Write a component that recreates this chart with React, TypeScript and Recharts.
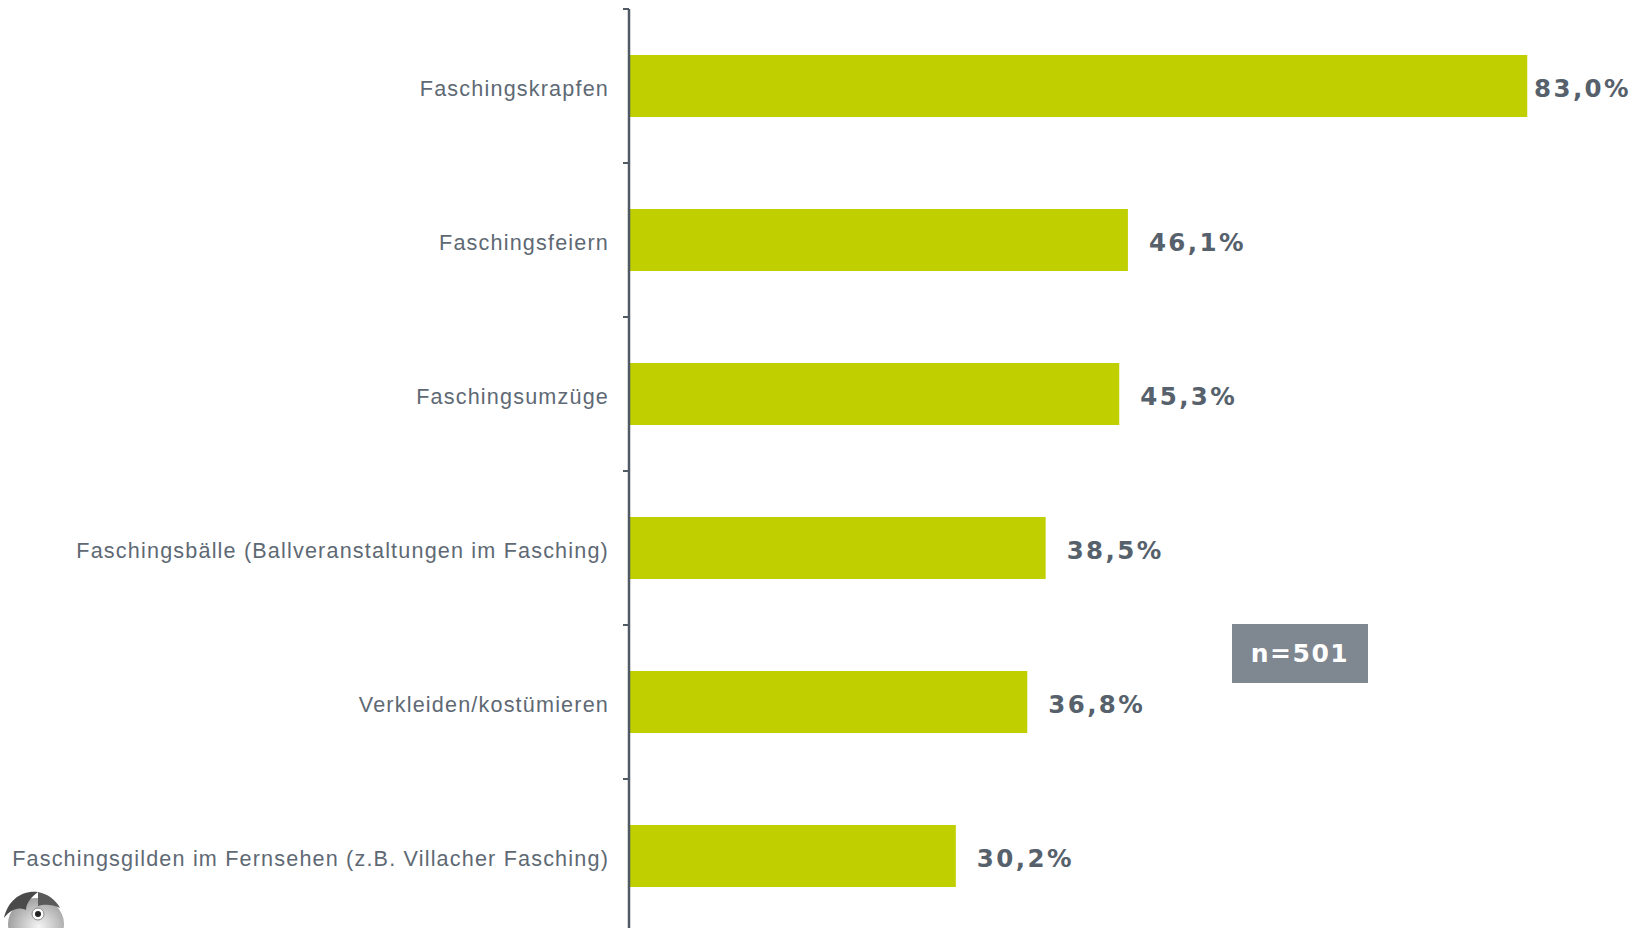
import { Bar, BarChart, LabelList, XAxis, YAxis } from 'recharts';

// Beliebteste Faschingsbräuche, Anteil in %
const categories = [
  'Faschingskrapfen',
  'Faschingsfeiern',
  'Faschingsumzüge',
  'Faschingsbälle (Ballveranstaltungen im Fasching)',
  'Verkleiden/kostümieren',
  'Faschingsgilden im Fernsehen (z.B. Villacher Fasching)',
];
const values = [83.0, 46.1, 45.3, 38.5, 36.8, 30.2];
const sampleSize = 'n=501';

const data = categories.map((name, i) => ({ name, value: values[i] }));

const WIDTH = 1641;
const HEIGHT = 936; // plot runs a bit past the bottom edge, clipped by the wrapper
const MARGIN = { top: 9, right: 38, bottom: 3, left: 0 };
const AXIS_X = 629;
const BAND = (HEIGHT - MARGIN.top - MARGIN.bottom) / categories.length;
const LABEL_MAX_X = 1534; // longest label gets pushed left so it stays on the page

const AXIS_COLOR = '#4f5a65';
const BAR_COLOR = '#bfcf00';

function CategoryTick(props: any) {
  const { y, payload, index } = props;
  const half = BAND / 2;
  return (
    <g>
      <line x1={AXIS_X - 6} x2={AXIS_X} y1={y - half} y2={y - half} stroke={AXIS_COLOR} strokeWidth={2} />
      {index === categories.length - 1 ? (
        <line x1={AXIS_X - 6} x2={AXIS_X} y1={y + half} y2={y + half} stroke={AXIS_COLOR} strokeWidth={2} />
      ) : null}
      <text
        x={AXIS_X - 20}
        y={y + 2}
        textAnchor="end"
        dominantBaseline="central"
        fill="#5e6974"
        fontFamily="'Liberation Sans', Arial, sans-serif"
        fontSize={21.6}
        letterSpacing={1.17}
      >
        {payload.value}
      </text>
    </g>
  );
}

function ValueLabel(props: any) {
  const { x, y, width, height, value } = props;
  const lx = Math.min(Number(x) + Number(width) + 21, LABEL_MAX_X);
  return (
    <text
      x={lx}
      y={Number(y) + Number(height) / 2 + 2}
      dominantBaseline="central"
      fill="#56616c"
      fontFamily="'DejaVu Sans', Verdana, sans-serif"
      fontWeight="bold"
      fontSize={24.5}
      letterSpacing={2.4}
    >
      {Number(value).toFixed(1).replace('.', ',')}%
    </text>
  );
}

function Mascot() {
  return (
    <svg width={70} height={40} style={{ position: 'absolute', left: 0, top: 888 }}>
      <defs>
        <radialGradient id="head" cx="0.55" cy="0.55" r="0.6">
          <stop offset="0%" stopColor="#f4f4f4" />
          <stop offset="100%" stopColor="#9a9a9a" />
        </radialGradient>
      </defs>
      <ellipse cx={36} cy={36} rx={28} ry={26} fill="url(#head)" />
      <path d="M4 30 C8 12, 22 2, 38 4 C30 10, 26 16, 26 22 C18 18, 10 22, 4 30 Z" fill="#4a4a4a" />
      <path d="M38 4 C48 6, 56 12, 60 20 C52 16, 44 16, 38 18 Z" fill="#5a5a5a" />
      <circle cx={38} cy={26} r={6} fill="#ffffff" stroke="#888" strokeWidth={1} />
      <circle cx={38} cy={26} r={3} fill="#222" />
    </svg>
  );
}

export default function App() {
  return (
    <div style={{ position: 'fixed', left: 0, top: 0, width: WIDTH, height: 928, overflow: 'hidden', background: '#fff' }}>
      <BarChart width={WIDTH} height={HEIGHT} data={data} layout="vertical" margin={MARGIN}>
        <XAxis type="number" domain={[0, 90]} hide />
        <YAxis
          type="category"
          dataKey="name"
          width={AXIS_X}
          axisLine={{ stroke: AXIS_COLOR, strokeWidth: 2.5 }}
          tickLine={false}
          tick={<CategoryTick />}
          interval={0}
        />
        <Bar dataKey="value" fill={BAR_COLOR} barSize={62} isAnimationActive={false}>
          <LabelList dataKey="value" content={<ValueLabel />} />
        </Bar>
      </BarChart>
      <div
        style={{
          position: 'absolute',
          left: 1232,
          top: 624,
          width: 136,
          height: 59,
          background: '#7f8791',
          color: '#ffffff',
          fontFamily: "'DejaVu Sans', Verdana, sans-serif",
          fontWeight: 'bold',
          fontSize: 25,
          letterSpacing: 1.5,
          display: 'flex',
          alignItems: 'center',
          justifyContent: 'center',
        }}
      >
        {sampleSize}
      </div>
      <Mascot />
    </div>
  );
}
